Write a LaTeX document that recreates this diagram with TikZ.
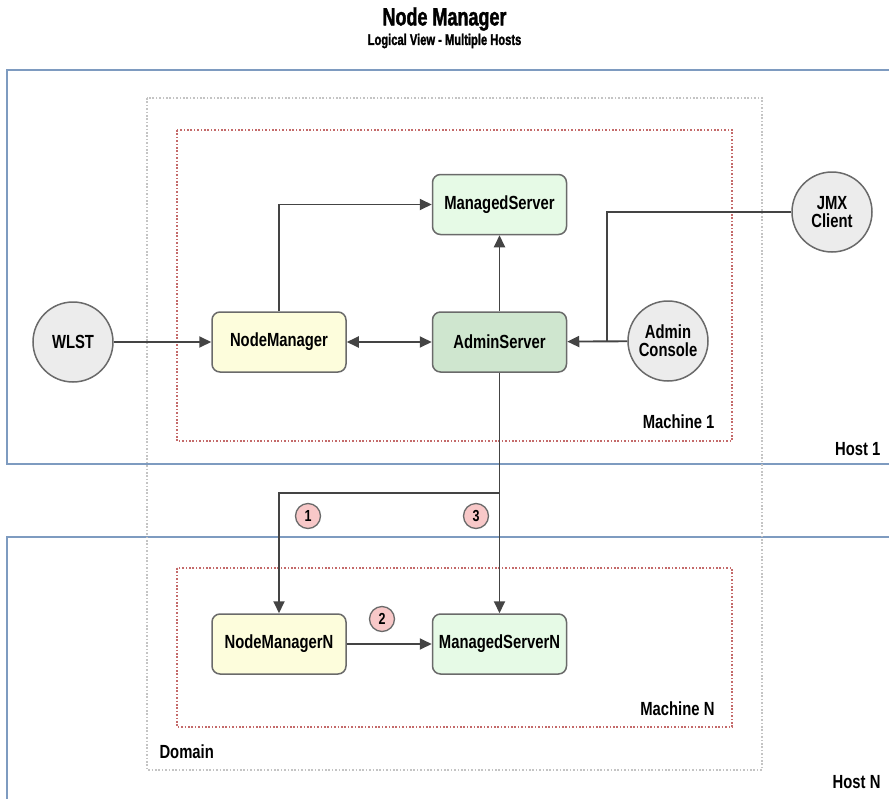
\documentclass[tikz,border=0pt]{standalone}
\usepackage{fontspec}
\setmainfont{Liberation Sans}[FakeStretch=0.78]
\newfontfamily\titlefont{Liberation Sans Bold}[FakeStretch=0.72, FakeBold=1.5]
\usetikzlibrary{arrows.meta,calc}

\definecolor{hostblue}{HTML}{7E9BC0}
\definecolor{domgray}{HTML}{C4C4C4}
\definecolor{machred}{HTML}{C46A6A}
\definecolor{edgegray}{HTML}{6A6A6A}
\definecolor{wiregray}{HTML}{444444}
\definecolor{nmfill}{HTML}{FDFDDC}
\definecolor{msfill}{HTML}{E6FAE6}
\definecolor{asfill}{HTML}{CFE6CF}
\definecolor{clientfill}{HTML}{ECECEC}
\definecolor{badgefill}{HTML}{F8C8C8}

\tikzset{
  lbl/.style={font=\fontsize{19}{21}\selectfont\bfseries, text=black},
  serverbox/.style={lbl, draw=edgegray, line width=1.5pt, rounded corners=8pt,
    minimum width=134pt, minimum height=60pt, inner sep=0pt, align=center},
  client/.style={lbl, circle, draw=edgegray, line width=1.5pt, fill=clientfill,
    minimum size=80pt, inner sep=0pt, align=center},
  badge/.style={circle, draw=edgegray, line width=1.3pt, fill=badgefill,
    minimum size=25pt, inner sep=0pt, font=\fontsize{16}{17}\selectfont\bfseries},
  wire/.style={draw=wiregray, line width=1.9pt},
  arr/.style={wire, -{Triangle[length=12pt,width=11pt]}},
  darr/.style={wire, {Triangle[length=12pt,width=11pt]}-{Triangle[length=12pt,width=11pt]}},
  hostline/.style={draw=hostblue, line width=2.2pt},
  domainline/.style={draw=domgray, line width=1.6pt, dash pattern=on 1.6pt off 1.8pt},
  machineline/.style={draw=machred, line width=1.6pt, dash pattern=on 1.6pt off 1.8pt},
}

\begin{document}
\begin{tikzpicture}[x=1pt, y=-1pt]
\useasboundingbox (0,0) rectangle (889,798);

% title
\node (title) at (444.5,19) {\titlefont\fontsize{25}{27}\selectfont Node Manager};
\node (subtitle) at (444.5,41) {\titlefont\fontsize{15.5}{17}\selectfont Logical View - Multiple Hosts};

% hosts (open to the right and bottom)
\draw[hostline] (900,70) -- (7,70) -- (7,464) -- (900,464);
\draw[hostline] (900,537) -- (7,537) -- (7,810);
\node[lbl, anchor=east] (host1) at (884,449) {Host 1};
\node[lbl, anchor=east] (hostn) at (884,782) {Host N};

% domain
\draw[domainline] (147,98) rectangle (762,770);
\node[lbl, anchor=west] (domain) at (156,752) {Domain};

% machines
\draw[machineline] (177,130) rectangle (732,441);
\node[lbl, anchor=east] (mach1) at (718,422) {Machine 1};
\draw[machineline] (177,568) rectangle (732,727);
\node[lbl, anchor=east] (machn) at (718,709) {Machine N};

% servers
\node[serverbox, fill=nmfill] (nm) at (279,342) {NodeManager};
\node[serverbox, fill=asfill] (as) at (499.5,342) {AdminServer};
\node[serverbox, fill=msfill] (ms) at (499.5,204.5) {ManagedServer};
\node[serverbox, fill=nmfill] (nmn) at (279,644) {NodeManagerN};
\node[serverbox, fill=msfill] (msn) at (499.5,644) {ManagedServerN};

% clients
\node[client] (wlst) at (73,342) {WLST};
\node[client] (ac) at (668,341) {Admin\\[-3pt]Console};
\node[client] (jmx) at (832,212) {JMX\\[-3pt]Client};

% connectors
\coordinate (jbend) at (607,342);
\coordinate (split) at (499.5,493);

\draw[arr] (wlst) -- (nm);
\draw[darr] (nm) -- (as);
\draw[arr] (nm.north) |- (ms.west);
\draw[arr] (as) -- (ms);
\draw[wire] (jmx.west) -| (jbend);
\draw[arr] (ac) -- (as);
\draw[wire] (as.south) -- (split);
\draw[arr] (split) -| (nmn.north);
\draw[arr] (split) -- (msn.north);
\draw[arr] (nmn) -- (msn);

% step badges
\node[badge] (b1) at (308,516) {1};
\node[badge] (b3) at (476,516) {3};
\node[badge] (b2) at (382,619) {2};
\end{tikzpicture}
\end{document}
